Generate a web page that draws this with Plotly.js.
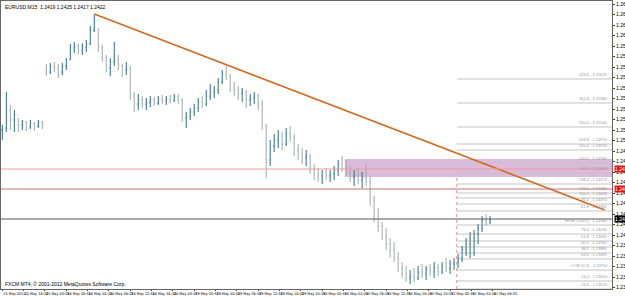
<!DOCTYPE html>
<html><head><meta charset="utf-8">
<script src="https://cdn.plot.ly/plotly-3.0.1.min.js"></script>
<style>html,body{margin:0;padding:0;background:#fff;overflow:hidden}#chart{width:625px;height:297px}</style>
</head><body><div id="chart"></div>
<script>
const symbol = 'EURUSD,M15';
const copyright = 'FXCM MT4, \u00a9 2001-2012 MetaQuotes Software Corp.';
const dateLabels = ['25 May 2012','25 May 16:45','25 May 20:45','28 May 00:45','28 May 04:45','28 May 08:45','28 May 12:45','28 May 16:45','28 May 20:45','29 May 00:45','29 May 04:45','29 May 08:45','29 May 12:45','29 May 16:45','29 May 20:45','30 May 00:45','30 May 04:45','30 May 08:45','30 May 12:45','30 May 16:45','30 May 20:45','31 May 00:45','31 May 04:45','31 May 08:45'];
const yTicks = [1.26370,1.26265,1.26160,1.26055,1.25950,1.25845,1.25740,1.25635,1.25530,1.25425,1.25320,1.25215,1.25110,1.25005,1.24900,1.24795,1.24690,1.24585,1.24480,1.24375,1.24270,1.24165,1.24060,1.23955,1.23850,1.23745,1.23640,1.23535];

const openP = [1.2511,1.2513,1.2531,1.2521,1.2526,1.2516,1.2519,1.2514,1.2518,1.2515,1.2519,
1.2571,1.2569,1.2575,1.2573,1.2569,1.2575,1.2581,1.2593,1.2595,1.2591,1.2594,1.2597,1.2611,1.2621,1.2593,1.2583,1.2573,1.2579,1.2581,1.2575,1.2571,
1.2573,1.2545,1.2537,1.2541,1.2537,1.2539,1.2541,1.2538,1.2542,1.2540,1.2543,1.2541,1.2544,1.2541,1.2523,1.2525,1.2529,1.2533,1.2539,1.2537,1.2545,1.2549,1.2551,1.2559,1.2567,1.2565,1.2553,1.2551,1.2547,1.2549,1.2541,1.2543,1.2545,1.2537,1.2515,
1.2481,1.2495,1.2501,1.2505,1.2497,1.2507,1.2503,1.2491,1.2487,1.2483,1.2485,1.2471,1.2467,1.2465,1.2469,1.2465,1.2467,1.2471,1.2477,1.2473,1.2469,1.2463,1.2465,1.2461,1.2463,
1.2459,1.2441,1.2425,1.2415,1.2405,1.2397,1.2391,1.2383,1.2373,1.2367,1.2363,1.2365,1.2363,1.2369,1.2367,1.2371,1.2369,1.2373,1.2369,1.2375,1.2373,1.2377,1.2379,1.2383,1.2391,1.2397,1.2403,1.2407,1.2413,1.2421,1.2419];
const highP = [1.2516,1.2549,1.2536,1.2531,1.2523,1.2521,1.2520,1.2521,1.2519,1.2521,1.2520,
1.2577,1.2578,1.2579,1.2577,1.2578,1.2583,1.2597,1.2599,1.2597,1.2598,1.2601,1.2615,1.2627,1.2613,1.2596,1.2586,1.2583,1.2599,1.2586,1.2577,1.2579,
1.2575,1.2549,1.2547,1.2545,1.2543,1.2545,1.2544,1.2545,1.2546,1.2545,1.2546,1.2547,1.2547,1.2543,1.2529,1.2533,1.2537,1.2543,1.2545,1.2551,1.2557,1.2555,1.2563,1.2571,1.2575,1.2567,1.2559,1.2555,1.2553,1.2551,1.2547,1.2549,1.2547,1.2541,1.2517,
1.2501,1.2507,1.2511,1.2509,1.2513,1.2515,1.2507,1.2497,1.2493,1.2491,1.2487,1.2477,1.2473,1.2471,1.2473,1.2471,1.2475,1.2481,1.2485,1.2481,1.2475,1.2471,1.2473,1.2469,1.2477,
1.2465,1.2445,1.2433,1.2419,1.2413,1.2403,1.2399,1.2389,1.2379,1.2375,1.2371,1.2373,1.2375,1.2377,1.2375,1.2377,1.2379,1.2377,1.2379,1.2383,1.2381,1.2383,1.2387,1.2395,1.2403,1.2409,1.2411,1.2417,1.2425,1.2427,1.2425];
const lowP = [1.2501,1.2509,1.2511,1.2509,1.2509,1.2511,1.2510,1.2512,1.2510,1.2513,1.2512,
1.2565,1.2567,1.2569,1.2563,1.2566,1.2571,1.2581,1.2588,1.2587,1.2586,1.2589,1.2596,1.2609,1.2589,1.2579,1.2569,1.2565,1.2575,1.2571,1.2564,1.2566,
1.2541,1.2529,1.2531,1.2533,1.2531,1.2534,1.2535,1.2536,1.2537,1.2536,1.2538,1.2539,1.2537,1.2519,1.2513,1.2521,1.2525,1.2529,1.2533,1.2535,1.2541,1.2543,1.2547,1.2557,1.2561,1.2549,1.2545,1.2541,1.2539,1.2533,1.2535,1.2537,1.2531,1.2511,1.2463,
1.2475,1.2489,1.2493,1.2491,1.2495,1.2499,1.2485,1.2481,1.2477,1.2475,1.2467,1.2461,1.2459,1.2457,1.2461,1.2459,1.2461,1.2465,1.2469,1.2465,1.2459,1.2455,1.2457,1.2453,1.2455,
1.2435,1.2419,1.2409,1.2401,1.2391,1.2383,1.2379,1.2369,1.2363,1.2359,1.2357,1.2359,1.2361,1.2363,1.2361,1.2365,1.2363,1.2365,1.2367,1.2369,1.2367,1.2371,1.2373,1.2379,1.2385,1.2383,1.2385,1.2397,1.2409,1.2415,1.2417];
const closeP = [1.2513,1.2531,1.2521,1.2526,1.2516,1.2519,1.2514,1.2518,1.2515,1.2519,1.2516,
1.2569,1.2575,1.2573,1.2569,1.2575,1.2581,1.2593,1.2595,1.2591,1.2594,1.2597,1.2611,1.2621,1.2593,1.2583,1.2573,1.2579,1.2581,1.2575,1.2571,1.2573,
1.2545,1.2537,1.2541,1.2537,1.2539,1.2541,1.2538,1.2542,1.2540,1.2543,1.2541,1.2544,1.2541,1.2523,1.2525,1.2529,1.2533,1.2539,1.2537,1.2545,1.2549,1.2551,1.2559,1.2567,1.2565,1.2553,1.2551,1.2547,1.2549,1.2541,1.2543,1.2545,1.2537,1.2515,1.2481,
1.2495,1.2501,1.2505,1.2497,1.2507,1.2503,1.2491,1.2487,1.2483,1.2485,1.2471,1.2467,1.2465,1.2469,1.2465,1.2467,1.2471,1.2477,1.2473,1.2469,1.2463,1.2465,1.2461,1.2463,1.2459,
1.2441,1.2425,1.2415,1.2405,1.2397,1.2391,1.2383,1.2373,1.2367,1.2363,1.2365,1.2363,1.2369,1.2367,1.2371,1.2369,1.2373,1.2369,1.2375,1.2373,1.2377,1.2379,1.2383,1.2391,1.2397,1.2403,1.2407,1.2413,1.2421,1.2419,1.2422];

const trendTime = [69, 452];
const trendPrice = [1.2627, 1.2431];
const zoneStart = 257;
const zonePrices = [1.2464, 1.2482];
const redLevels = [1.2472, 1.2452];
const fibStart = 341;
const fibUpperLevels = [1.2562,1.2538,1.2514,1.2497,1.2491,1.2478,1.2468,1.2457,1.2448,1.2443,1.2437,1.2430];
const fibUpperNames = ['423.6','361.8','300.0','261.8','250.0','200.0','161.8','138.2','123.6','100.0','76.4','61.8'];
const fibLowerLevels = [1.2416,1.2407,1.2400,1.2394,1.2388,1.2382,1.2371,1.2360,1.2352];
const fibLowerNames = ['HIGH (100.0)','76.4','61.8','50.0','38.2','23.6','LOW (0.0)','-13.0','-23.6'];

const barStep = 3;
const xBars = openP.map((_, k) => k * barStep);
const last = closeP.length - 1;
const FONT = 'Liberation Sans, Arial, sans-serif';
const NARROW = 'Liberation Sans Narrow, DejaVu Sans Condensed, Arial Narrow, sans-serif';
const yMin = 1.2352, yMax = 1.2640;

const traces = [
  {type:'ohlc', x:xBars, open:openP, high:highP, low:lowP, close:closeP,
   increasing:{line:{color:'#2E6F80', width:1}}, decreasing:{line:{color:'#9FA9AC', width:1}},
   tickwidth:0.22, hoverinfo:'skip', showlegend:false},
  {type:'scatter', mode:'lines', x:trendTime, y:trendPrice, line:{color:'#D2691E', width:1.5},
   hoverinfo:'skip', showlegend:false}
];

const shapes = [];
shapes.push({type:'rect', xref:'x', yref:'y', x0:zoneStart, x1:470, y0:zonePrices[0], y1:zonePrices[1],
  fillcolor:'#DCBADC', line:{width:0}, layer:'below'});
shapes.push({type:'line', xref:'paper', yref:'y', x0:0, x1:1, y0:redLevels[0], y1:redLevels[0], line:{color:'#EE9A9A', width:1.2}});
shapes.push({type:'line', xref:'paper', yref:'y', x0:0, x1:1, y0:redLevels[1], y1:redLevels[1], line:{color:'#C07070', width:1}});
shapes.push({type:'line', xref:'paper', yref:'y', x0:0, x1:1, y0:closeP[last], y1:closeP[last], line:{color:'#555555', width:1}});
fibUpperLevels.concat(fibLowerLevels).forEach(v => {
  shapes.push({type:'line', xref:'x', yref:'y', x0:fibStart, x1:470, y0:v, y1:v, line:{color:'#C4C4C4', width:1}, layer:'below'});
});
shapes.push({type:'line', xref:'x', yref:'paper', x0:fibStart, x1:fibStart, y0:0, y1:(zonePrices[0]-yMin)/(yMax-yMin),
  line:{color:'#E89090', width:1, dash:'dot'}});

const annotations = [];
annotations.push({xref:'paper', yref:'paper', x:0.003, y:0.995, xanchor:'left', yanchor:'top', showarrow:false,
  text: symbol + '  ' + [openP[last],highP[last],lowP[last],closeP[last]].map(v=>v.toFixed(4)).join(' '),
  font:{family:FONT, size:5, color:'#000'}});
annotations.push({xref:'paper', yref:'paper', x:0.003, y:0.0, xanchor:'left', yanchor:'bottom', showarrow:false,
  text: copyright, font:{family:FONT, size:5, color:'#000'}});
fibUpperLevels.forEach((v,i) => annotations.push({xref:'paper', yref:'y', x:0.997, y:v, xanchor:'right', yanchor:'bottom',
  showarrow:false, text: fibUpperNames[i] + ' - ' + v.toFixed(5), font:{family:FONT, size:4, color:'#999'}}));
fibLowerLevels.forEach((v,i) => annotations.push({xref:'paper', yref:'y', x:0.997, y:v, xanchor:'right', yanchor:'bottom',
  showarrow:false, text: fibLowerNames[i] + ' - ' + v.toFixed(5), font:{family:FONT, size:4, color:'#999'}}));
redLevels.forEach(v => annotations.push({xref:'paper', yref:'y', x:1.004, y:v, xanchor:'left', yanchor:'middle', showarrow:false,
  text:v.toFixed(4), bgcolor:'#E01010', borderpad:0, font:{family:FONT, size:5, color:'#fff'}}));
annotations.push({xref:'paper', yref:'y', x:1.004, y:closeP[last], xanchor:'left', yanchor:'middle', showarrow:false,
  text:closeP[last].toFixed(4), bgcolor:'#000', borderpad:0, font:{family:FONT, size:5, color:'#fff'}});

const layout = {
  width:625, height:297, margin:{l:1, r:13, t:1, b:8},
  paper_bgcolor:'#fff', plot_bgcolor:'#fff', showlegend:false, dragmode:false,
  font:{family:FONT, size:5, color:'#000'},
  xaxis:{range:[-1, 457.5], showgrid:false, zeroline:false, rangeslider:{visible:false},
    tickmode:'array', tickvals:dateLabels.map((_, n) => n*16), ticktext:dateLabels, tickangle:0,
    ticks:'outside', ticklen:1, tickcolor:'#444', ticklabelposition:'outside right',
    tickfont:{family:NARROW, size:3.8, color:'#000'},
    showline:true, linecolor:'#666', linewidth:1, mirror:true},
  yaxis:{range:[yMin, yMax], side:'right', showgrid:false, zeroline:false,
    tickmode:'array', tickvals:yTicks, tickformat:'.4f', ticks:'outside', ticklen:2, tickcolor:'#444',
    tickfont:{family:FONT, size:5, color:'#000'},
    showline:true, linecolor:'#666', linewidth:1, mirror:true},
  shapes:shapes, annotations:annotations
};
Plotly.newPlot('chart', traces, layout, {staticPlot:true, displayModeBar:false});
</script></body></html>
